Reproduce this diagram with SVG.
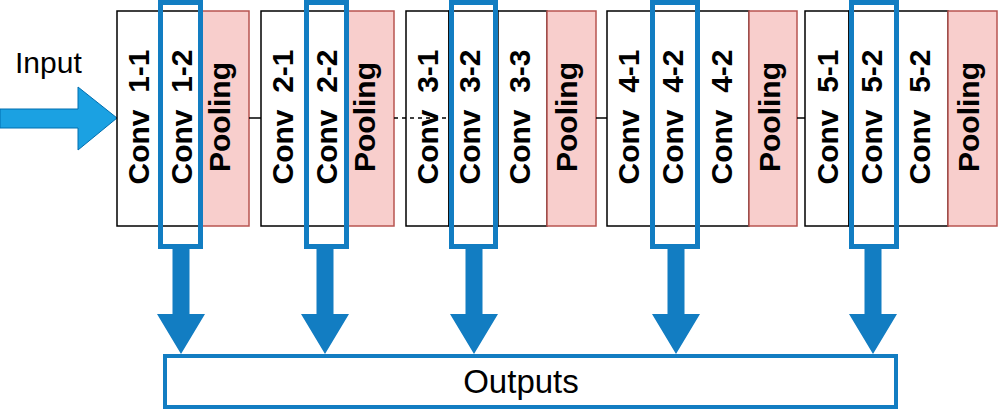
<svg xmlns="http://www.w3.org/2000/svg" width="998" height="410" viewBox="0 0 998 410">
<style>
.conv{fill:#fff;stroke:#000;stroke-width:1.5}
.pool{fill:#F8CECC;stroke:#B85450;stroke-width:1.5}
.lbl{font-family:"Liberation Sans",Arial,sans-serif;font-weight:bold;font-size:30px;fill:#000;text-anchor:middle}
.hl{fill:none;stroke:#127DC2;stroke-width:5}
.dn{fill:#127DC2}
.conn{stroke:#000;stroke-width:1.5;fill:none}
</style>
<rect width="998" height="410" fill="#fff"/>
<g id="input">
<text x="15" y="73" font-family="'Liberation Sans',Arial,sans-serif" font-size="30" fill="#000">Input</text>
<polygon points="0,109 78,109 78,87 117,118 78,150 78,128 0,128" fill="#1BA1E2" stroke="#006EAF" stroke-width="1"/>
</g>
<g id="block1">
<rect class="conv" x="117" y="11" width="43" height="215"/>
<rect class="conv" x="160" y="11" width="42" height="215"/>
<rect class="pool" x="202" y="11" width="47" height="215"/>
<text class="lbl" transform="translate(149,117) rotate(-90)" xml:space="preserve">Conv  1-1</text>
<text class="lbl" transform="translate(192,117) rotate(-90)" xml:space="preserve">Conv  1-2</text>
<text class="lbl" transform="translate(230,117) rotate(-90)">Pooling</text>
</g>
<g id="block2">
<rect class="conv" x="261" y="11" width="44" height="215"/>
<rect class="conv" x="305" y="11" width="43" height="215"/>
<rect class="pool" x="348" y="11" width="46" height="215"/>
<text class="lbl" transform="translate(293,117) rotate(-90)" xml:space="preserve">Conv  2-1</text>
<text class="lbl" transform="translate(337,117) rotate(-90)" xml:space="preserve">Conv  2-2</text>
<text class="lbl" transform="translate(375,117) rotate(-90)">Pooling</text>
</g>
<g id="block3">
<rect class="conv" x="406" y="11" width="43" height="215"/>
<rect class="conv" x="449" y="11" width="49" height="215"/>
<rect class="conv" x="498" y="11" width="49" height="215"/>
<rect class="pool" x="547" y="11" width="49" height="215"/>
<text class="lbl" transform="translate(438,117) rotate(-90)" xml:space="preserve">Conv  3-1</text>
<text class="lbl" transform="translate(480,117) rotate(-90)" xml:space="preserve">Conv  3-2</text>
<text class="lbl" transform="translate(530,117) rotate(-90)" xml:space="preserve">Conv  3-3</text>
<text class="lbl" transform="translate(577,117) rotate(-90)">Pooling</text>
</g>
<g id="block4">
<rect class="conv" x="607" y="11" width="44" height="215"/>
<rect class="conv" x="651" y="11" width="48" height="215"/>
<rect class="conv" x="699" y="11" width="50" height="215"/>
<rect class="pool" x="749" y="11" width="48" height="215"/>
<text class="lbl" transform="translate(639,117) rotate(-90)" xml:space="preserve">Conv  4-1</text>
<text class="lbl" transform="translate(683,117) rotate(-90)" xml:space="preserve">Conv  4-2</text>
<text class="lbl" transform="translate(732,117) rotate(-90)" xml:space="preserve">Conv  4-2</text>
<text class="lbl" transform="translate(780,117) rotate(-90)">Pooling</text>
</g>
<g id="block5">
<rect class="conv" x="805" y="11" width="44" height="215"/>
<rect class="conv" x="849" y="11" width="49" height="215"/>
<rect class="conv" x="898" y="11" width="50" height="215"/>
<rect class="pool" x="948" y="11" width="49" height="215"/>
<text class="lbl" transform="translate(838,117) rotate(-90)" xml:space="preserve">Conv  5-1</text>
<text class="lbl" transform="translate(882,117) rotate(-90)" xml:space="preserve">Conv  5-2</text>
<text class="lbl" transform="translate(930,117) rotate(-90)" xml:space="preserve">Conv  5-2</text>
<text class="lbl" transform="translate(979,117) rotate(-90)">Pooling</text>
</g>
<g id="connectors">
<line class="conn" x1="249" y1="118" x2="261" y2="118"/>
<line class="conn" x1="394" y1="118" x2="448" y2="118" stroke-dasharray="4 4"/>
<line class="conn" x1="596" y1="118" x2="607" y2="118"/>
<line class="conn" x1="797" y1="118" x2="805" y2="118"/>
<polygon class="dn" points="172.5,246 189.5,246 189.5,314 205,314 181,354 157,314 172.5,314"/>
<polygon class="dn" points="316.5,246 333.5,246 333.5,314 349,314 325,354 301,314 316.5,314"/>
<polygon class="dn" points="465.5,246 482.5,246 482.5,314 498,314 474,354 450,314 465.5,314"/>
<polygon class="dn" points="667.5,246 684.5,246 684.5,314 700,314 676,354 652,314 667.5,314"/>
<polygon class="dn" points="864.5,246 881.5,246 881.5,314 897,314 873,354 849,314 864.5,314"/>
</g>
<g id="highlights">
<rect class="hl" x="160.5" y="2.5" width="40" height="244"/>
<rect class="hl" x="306.5" y="2.5" width="40" height="244"/>
<rect class="hl" x="451.5" y="2.5" width="44" height="244"/>
<rect class="hl" x="652.5" y="2.5" width="45" height="244"/>
<rect class="hl" x="851.5" y="2.5" width="45" height="244"/>
</g>
<g id="outputs">
<rect x="165" y="356" width="731" height="51" fill="#fff" stroke="#127DC2" stroke-width="4"/>
<text x="521" y="393" font-family="'Liberation Sans',Arial,sans-serif" font-size="33" fill="#000" text-anchor="middle">Outputs</text>
</g>
</svg>
